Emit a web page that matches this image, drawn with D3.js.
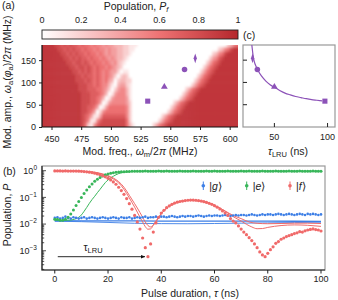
<!DOCTYPE html>
<html><head><meta charset="utf-8">
<script src="https://cdn.jsdelivr.net/npm/d3@7"></script>
<style>
body{margin:0;background:#fff}
svg{display:block}
text{font-family:"Liberation Sans",Arial,sans-serif;fill:#222}
</style>
</head><body>
<svg id="chart" width="338" height="300"></svg>
<script>
// ---------- DATA ----------
// heatmap (a): columns every 2.5 MHz starting at 442.5 MHz, rows centred at the listed amplitudes
const heatFreqStart = 442.5;
const heatFreqStep = 2.5;
const heatAmps = [5,15,25,35,45,55,65,75,85,95,105,115,125,135,145,155,165,175,185];
// digit d => P_f = d/9*0.92 (0 = white, 9 = dark red)
const heatRows = [
"999999999999986215788888888863100000024678999999999999999999999999",
"999999999999987511578888888862000000000246789999999999999999999999",
"999999999999987641147777777752000000000024678999999999999999999999",
"999999999999988764025666666652000000000000246789999999999999999999",
"999999999999988776401466666652000000000000024678999999999999999999",
"999999999999988877640145555542000000000000002467899999999999999999",
"999999999999988877653014555541000000000000000024678999999999999999",
"999999999999988877765301455531000000000000000002467899999999999999",
"999999999999888777665420245531000000000000000000246789999999999999",
"999999999999888776765531034421000000000000000000002467899999999999",
"999999999998887876765643023322000000000000000000000246789999999999",
"999999999998878776765654202320000000000000000000000024678999999999",
"999999999988787876765654420110000000000000000000000002467899999999",
"999999999887887876766565432000000000000000000000000000246789999999",
"999999998878878767665654532100000000000000000000000000024678999999",
"999999988787877676656545433210000000000000000000000000002457899999",
"999999887878776766565454433221000000000000000000000000000235689999",
"999998878787767665655454433221100000000000000000000000000002356899",
"999988787877676656554544333221110000000000000000000000000000002356"
];
const heatColorStops = ["#ffffff", "#ee7273", "#b5272c"];
const heatColorDomain = [0, 0.6, 1];
const cbTicks = [0, 0.2, 0.4, 0.6, 0.8, 1];
const freqTicks = [450, 475, 500, 525, 550, 575, 600];
const ampTicks = [0, 50, 100, 150];

// LRU operating points (a) and (c)
const lruSymbols = ["diamond", "circle", "triangle", "square"];
const lruFreq = [571, 562, 545, 531];
const lruAmp = [154, 129, 90, 58];
const lruTau = [29.5, 34, 50, 97.5];
const fitTau = [28.8, 29.5, 30, 31, 33, 35, 38, 42, 46, 50, 55, 60, 65, 70, 75, 80, 85, 90, 95];
const fitAmp = [184, 170, 160, 148, 135, 125, 114, 103, 95, 89, 82, 76, 72, 68.5, 66, 63.5, 61.5, 60, 58.5];
const tauTicks = [50, 100];

// (b) populations vs pulse duration (1 ns steps, 0..100 ns)
const pulseTau = d3.range(0, 101, 1);
const popG = [
0.017,0.018,0.016,0.017,0.019,0.017,0.016,0.018,0.017,0.016,0.017,
0.018,0.016,0.017,0.018,0.017,0.016,0.017,0.018,0.017,0.016,
0.017,0.018,0.017,0.016,0.018,0.017,0.017,0.018,0.016,0.017,
0.018,0.017,0.018,0.019,0.017,0.018,0.018,0.019,0.018,0.019,
0.019,0.018,0.019,0.020,0.019,0.018,0.019,0.020,0.019,0.020,
0.020,0.019,0.020,0.021,0.020,0.019,0.020,0.021,0.020,0.021,
0.021,0.020,0.021,0.022,0.021,0.020,0.021,0.022,0.021,0.022,
0.022,0.021,0.022,0.023,0.022,0.021,0.022,0.023,0.022,0.023,
0.023,0.022,0.023,0.024,0.023,0.022,0.023,0.024,0.023,0.022,
0.023,0.024,0.023,0.022,0.024,0.023,0.024,0.023,0.022,0.023];
const popE = [
0.015,0.015,0.014,0.014,0.015,0.018,0.024,0.034,0.05,0.07,0.10,
0.14,0.19,0.25,0.32,0.40,0.48,0.56,0.63,0.70,0.75,
0.80,0.84,0.87,0.89,0.91,0.92,0.93,0.94,0.95,0.95,
0.96,0.95,0.96,0.97,0.96,0.96,0.95,0.96,0.97,0.96,
0.96,0.97,0.96,0.95,0.96,0.96,0.97,0.96,0.96,0.95,
0.96,0.97,0.96,0.96,0.95,0.96,0.97,0.96,0.96,0.97,
0.96,0.95,0.96,0.96,0.97,0.96,0.96,0.95,0.96,0.97,
0.96,0.96,0.97,0.96,0.95,0.96,0.96,0.97,0.96,0.96,
0.95,0.96,0.97,0.96,0.96,0.95,0.96,0.97,0.96,0.96,
0.96,0.97,0.96,0.95,0.96,0.96,0.97,0.96,0.96,0.96];
const popF = [
0.98,0.98,0.98,0.97,0.98,0.97,0.97,0.97,0.97,0.96,0.95,
0.93,0.91,0.88,0.85,0.81,0.76,0.71,0.65,0.59,0.52,
0.45,0.38,0.31,0.24,0.18,0.13,0.09,0.058,0.036,0.021,
0.012,0.0065,0.003,0.0013,0.0006,0.0018,0.005,0.011,0.018,0.026,
0.033,0.041,0.048,0.055,0.061,0.066,0.070,0.073,0.076,0.078,
0.079,0.079,0.078,0.076,0.073,0.069,0.065,0.060,0.055,0.049,
0.043,0.037,0.031,0.026,0.021,0.016,0.013,0.011,0.0085,0.0065,
0.005,0.004,0.0031,0.0024,0.0018,0.0013,0.0009,0.0007,0.0006,0.0008,
0.0011,0.0014,0.0019,0.0022,0.0027,0.0030,0.0034,0.0037,0.0040,0.0044,
0.0047,0.0052,0.0050,0.0056,0.0060,0.0063,0.0066,0.0062,0.0060,0.0055];
// simulated curves [tau, P]
const simE = [[0,.014],[5,.014],[8,.016],[10,.022],[11,.03],[12,.042],[13,.06],[14,.083],[15,.11],[16,.15],[17,.2],[18,.27],[19,.36],[20,.45],[22,.62],[24,.78],[26,.87],[28,.92],[30,.95],[34,.965],[40,.97],[100,.97]];
const simF1 = [[0,.98],[8,.97],[12,.92],[15,.85],[18,.73],[20,.62],[22,.49],[24,.35],[26,.2],[28,.095],[30,.043],[31,.028],[32,.018],[33,.012],[34,.008],[35,.0064],[36,.0066],[37,.009],[38,.013],[40,.025],[42,.04],[45,.06],[50,.077],[55,.073],[60,.05],[64,.03],[67,.019],[70,.013],[72,.0098],[74,.0078],[76,.0067],[78,.0068],[80,.0075],[85,.0088],[90,.0093],[95,.009],[100,.0082]];
const simF2 = [[0,.98],[8,.97],[12,.93],[15,.87],[18,.76],[20,.65],[22,.53],[24,.39],[26,.24],[28,.12],[30,.058],[31,.04],[32,.027],[33,.018],[34,.012],[35,.0088],[36,.0078],[37,.0092],[38,.012],[40,.024],[42,.039],[45,.06],[50,.077],[55,.073],[60,.05],[64,.031],[67,.021],[70,.016],[73,.012],[76,.0107],[80,.0103],[85,.0105],[90,.0108],[95,.0108],[100,.0105]];
const simG1 = [[0,.0133],[20,.0132],[40,.013],[60,.0129],[80,.0128],[100,.0127]];
const simG2 = [[0,.0128],[10,.0123],[20,.0115],[30,.0107],[40,.0104],[50,.0103],[60,.0105],[70,.0108],[80,.0111],[90,.0114],[100,.0117]];
const pulseTicks = [0, 20, 40, 60, 80, 100];
const decadeTicks = [1, 0.1, 0.01, 0.001];
const decadeExp = ["0", "\u22121", "\u22122", "\u22123"];
const tauLRU = 35;
const legendLabels = ["|g\u27E9", "|e\u27E9", "|f\u27E9"];
const colG = "#3d7fe6", colE = "#38b65a", colF = "#f06a6a", colP = "#8c52b8";

// ---------- DRAW ----------
const svg = d3.select("#chart");
const defs = svg.append("defs");
const font = 9, fontT = 10.5;

// ===== panel (a) =====
const hx = d3.scaleLinear().domain([442, 607]).range([42, 238]);
const hy = d3.scaleLinear().domain([0, 184]).range([127, 45]);
const heatColor = d3.scaleLinear().domain(heatColorDomain).range(heatColorStops).interpolate(d3.interpolateRgb);

defs.append("clipPath").attr("id","hclip").append("rect")
  .attr("x",42).attr("y",45).attr("width",196).attr("height",82);
const blur = defs.append("filter").attr("id","hblur").attr("x","-5%").attr("y","-5%").attr("width","110%").attr("height","110%");
blur.append("feGaussianBlur").attr("stdDeviation","1.1 1.6");

const cells = [];
heatRows.forEach((row, r) => {
  for (let c = 0; c < row.length; c++) {
    cells.push({f0: heatFreqStart + c*heatFreqStep, a: heatAmps[r], v: (+row[c])/9*0.92, c, r, nc: row.length});
  }
});
const hg = svg.append("g").attr("clip-path","url(#hclip)").append("g").attr("filter","url(#hblur)");
hg.selectAll("rect").data(cells).join("rect")
  .attr("x", d => hx(d.f0) - (d.c===0?6:0))
  .attr("width", d => hx(d.f0+heatFreqStep) - hx(d.f0) + 0.4 + (d.c===0?6:0) + (d.c===d.nc-1?6:0))
  .attr("y", d => hy(d.a+5) - (d.r===heatRows.length-1?8:0) - 0.3)
  .attr("height", d => hy(d.a-5) - hy(d.a+5) + 0.6 + (d.r===0?8:0) + (d.r===heatRows.length-1?8:0))
  .attr("fill", d => heatColor(d.v));

// heatmap axes
const hxAxis = svg.append("g").attr("transform","translate(0,127)")
  .call(d3.axisBottom(hx).tickValues(freqTicks).tickSize(3).tickSizeOuter(0));
const hyAxis = svg.append("g").attr("transform","translate(42,0)")
  .call(d3.axisLeft(hy).tickValues(ampTicks).tickSize(3).tickSizeOuter(0));
[hxAxis, hyAxis].forEach(g => {
  g.select(".domain").remove();
  g.selectAll("text").attr("font-size", font).attr("font-family","Liberation Sans, Arial").attr("fill","#222");
  g.selectAll("line").attr("stroke","#222");
});
hxAxis.selectAll("text").attr("dy","0.95em");
svg.append("path").attr("d","M42,45V127H238").attr("fill","none").attr("stroke","#111").attr("stroke-width",1.2);

// markers in heatmap
const symMap = {diamond: d3.symbolDiamond, circle: d3.symbolCircle, triangle: d3.symbolTriangle, square: d3.symbolSquare};
const symSize = {diamond: 16, circle: 24, triangle: 20, square: 26};
lruSymbols.forEach((s, i) => {
  svg.append("path").attr("d", d3.symbol(symMap[s], symSize[s])())
    .attr("transform", `translate(${hx(lruFreq[i])},${hy(lruAmp[i])})` + (s==="diamond"?" scale(0.75,1.3)":""))
    .attr("fill", colP);
});

// colorbar
const cbx = d3.scaleLinear().domain([0,1]).range([42, 238]);
const grad = defs.append("linearGradient").attr("id","cbgrad");
d3.range(0, 1.0001, 0.05).forEach(t => grad.append("stop").attr("offset", t).attr("stop-color", heatColor(t)));
svg.append("rect").attr("x",42).attr("y",30).attr("width",196).attr("height",9)
  .attr("fill","url(#cbgrad)").attr("stroke","#222").attr("stroke-width",0.9);
svg.selectAll(".cbt").data(cbTicks).join("text").attr("class","cbt")
  .attr("x", d => cbx(d)).attr("y", 23).attr("text-anchor","middle").attr("font-size", font)
  .text(d => d === 0 || d === 1 ? d : d.toFixed(1));
const cbTitle = svg.append("text").attr("x",136).attr("y",9.5).attr("text-anchor","middle").attr("font-size",fontT);
cbTitle.append("tspan").text("Population, ");
cbTitle.append("tspan").attr("font-style","italic").text("P");
cbTitle.append("tspan").attr("font-style","italic").attr("font-size",7.5).attr("dy",2).text("f");

svg.append("text").attr("x",2).attr("y",9).attr("font-size",fontT).text("(a)");
svg.append("text").attr("x",243).attr("y",38.5).attr("font-size",fontT).text("(c)");

// x title (a)
const xtA = svg.append("text").attr("x",140).attr("y",154.5).attr("text-anchor","middle").attr("font-size",fontT);
xtA.append("tspan").text("Mod. freq., ");
xtA.append("tspan").attr("font-style","italic").text("\u03C9");
xtA.append("tspan").attr("font-size",7.5).attr("dy",2).text("m");
xtA.append("tspan").attr("dy",-2).text("/2");
xtA.append("tspan").attr("font-style","italic").text("\u03C0");
xtA.append("tspan").text(" (MHz)");
// y title (a)
const ytA = svg.append("text").attr("transform","translate(10.5,82) rotate(-90)").attr("text-anchor","middle").attr("font-size",fontT);
ytA.append("tspan").text("Mod. amp., ");
ytA.append("tspan").attr("font-style","italic").text("\u03C9");
ytA.append("tspan").attr("font-size",7.5).attr("dy",2).text("a");
ytA.append("tspan").attr("dy",-2).text("(");
ytA.append("tspan").attr("font-style","italic").text("\u03C6");
ytA.append("tspan").attr("font-size",7.5).attr("dy",2).text("a");
ytA.append("tspan").attr("dy",-2).text(")/2");
ytA.append("tspan").attr("font-style","italic").text("\u03C0");
ytA.append("tspan").text(" (MHz)");

// ===== panel (c) =====
const cx = d3.scaleLinear().domain([20.5, 107]).range([243, 335]);
defs.append("clipPath").attr("id","cclip").append("rect").attr("x",243).attr("y",45).attr("width",92).attr("height",82);
svg.append("rect").attr("x",243).attr("y",45).attr("width",92).attr("height",82)
  .attr("fill","none").attr("stroke","#999").attr("stroke-width",1.2);
ampTicks.filter(d => d > 0).forEach(d => {
  svg.append("line").attr("x1",243).attr("x2",247).attr("y1",hy(d)).attr("y2",hy(d)).attr("stroke","#222");
});
tauTicks.forEach(d => {
  svg.append("line").attr("x1",cx(d)).attr("x2",cx(d)).attr("y1",127).attr("y2",123).attr("stroke","#222");
  svg.append("text").attr("x",cx(d)).attr("y",140).attr("text-anchor","middle").attr("font-size",font).text(d);
});
svg.append("path").attr("clip-path","url(#cclip)")
  .attr("d", d3.line().x((d,i) => cx(fitTau[i])).y((d,i) => hy(fitAmp[i])).curve(d3.curveMonotoneX)(fitTau))
  .attr("fill","none").attr("stroke",colP).attr("stroke-width",1.2);
lruSymbols.forEach((s, i) => {
  svg.append("path").attr("d", d3.symbol(symMap[s], symSize[s])())
    .attr("transform", `translate(${cx(lruTau[i])},${hy(lruAmp[i])})` + (s==="diamond"?" scale(0.75,1.3)":""))
    .attr("fill", colP);
});
const xtC = svg.append("text").attr("x",288).attr("y",154.5).attr("text-anchor","middle").attr("font-size",fontT);
xtC.append("tspan").attr("font-style","italic").text("\u03C4");
xtC.append("tspan").attr("font-size",7.5).attr("dy",2).text("LRU");
xtC.append("tspan").attr("dy",-2).text(" (ns)");

// ===== panel (b) =====
const bx = d3.scaleLinear().domain([-4.8, 101.5]).range([42, 325]);
const by = d3.scaleLog().domain([1.9e-4, 1.5]).range([270, 166]);
defs.append("clipPath").attr("id","bclip").append("rect").attr("x",42).attr("y",166).attr("width",283).attr("height",104);
svg.append("rect").attr("x",42).attr("y",166).attr("width",283).attr("height",104)
  .attr("fill","none").attr("stroke","#999").attr("stroke-width",1.2);
svg.append("path").attr("d","M42,166V270H325").attr("fill","none").attr("stroke","#222").attr("stroke-width",1.2);

// y ticks (log)
const minorTicks = by.ticks().filter(d => d >= 2e-4 && d <= 1.5);
minorTicks.forEach(d => {
  const isMajor = Math.abs(Math.log10(d) - Math.round(Math.log10(d))) < 1e-6;
  svg.append("line").attr("x1",42).attr("x2",42 + (isMajor?4:2.2)).attr("y1",by(d)).attr("y2",by(d))
    .attr("stroke","#222").attr("stroke-width",0.8);
});
decadeTicks.forEach((d, i) => {
  const t = svg.append("text").attr("x",37).attr("y",by(d)+3.2).attr("text-anchor","end").attr("font-size",font);
  t.append("tspan").text("10");
  t.append("tspan").attr("font-size",6.5).attr("dy",-4).text(decadeExp[i]);
});
// x ticks
pulseTicks.forEach(d => {
  svg.append("line").attr("x1",bx(d)).attr("x2",bx(d)).attr("y1",270).attr("y2",273.5).attr("stroke","#222");
  svg.append("text").attr("x",bx(d)).attr("y",282).attr("text-anchor","middle").attr("font-size",font).text(d);
});

const pb = svg.append("g").attr("clip-path","url(#bclip)");
const lineGen = d3.line().x(d => bx(d[0])).y(d => by(d[1])).curve(d3.curveMonotoneX);
[[simG1,colG,1.3],[simG2,colG,0.9],[simE,colE,1],[simF1,colF,1],[simF2,colF,1]].forEach(([dat,col,w]) => {
  pb.append("path").attr("d", lineGen(dat)).attr("fill","none").attr("stroke",col).attr("stroke-width",w);
});
function dots(vals, col, r) {
  pb.append("g").selectAll("circle").data(vals).join("circle")
    .attr("cx", (d,i) => bx(pulseTau[i])).attr("cy", d => by(d)).attr("r", r).attr("fill", col);
}
dots(popG, colG, 1.3);
dots(popE, colE, 1.5);
dots(popF, colF, 1.6);

// arrow
defs.append("marker").attr("id","arr").attr("viewBox","0 0 10 10").attr("refX",9).attr("refY",5)
  .attr("markerWidth",5).attr("markerHeight",5).attr("orient","auto")
  .append("path").attr("d","M0,1L10,5L0,9z").attr("fill","#111");
svg.append("line").attr("x1",bx(0)+3).attr("x2",bx(tauLRU)-3).attr("y1",256.7).attr("y2",256.7)
  .attr("stroke","#111").attr("stroke-width",0.9).attr("marker-end","url(#arr)");
const tl = svg.append("text").attr("x",93).attr("y",251).attr("text-anchor","middle").attr("font-size",fontT);
tl.append("tspan").text("\u03C4");
tl.append("tspan").attr("font-size",7.5).attr("dy",2).text("LRU");

// legend
const legX = [203.3, 246.7, 290], legC = [colG, colE, colF];
legendLabels.forEach((l, i) => {
  svg.append("line").attr("x1",legX[i]).attr("x2",legX[i]).attr("y1",181.5).attr("y2",190).attr("stroke",legC[i]).attr("stroke-width",1);
  svg.append("circle").attr("cx",legX[i]).attr("cy",185.7).attr("r",1.8).attr("fill",legC[i]);
  const t = svg.append("text").attr("x",legX[i]+6).attr("y",189.5).attr("font-size",fontT);
  t.append("tspan").text("|");
  t.append("tspan").attr("font-style","italic").text(l[1]);
  t.append("tspan").text("\u27E9");
});

svg.append("text").attr("x",3).attr("y",175).attr("font-size",fontT).text("(b)");
const ytB = svg.append("text").attr("transform","translate(10.5,215) rotate(-90)").attr("text-anchor","middle").attr("font-size",fontT);
ytB.append("tspan").text("Population, ");
ytB.append("tspan").attr("font-style","italic").text("P");
const xtB = svg.append("text").attr("x",190).attr("y",296.5).attr("text-anchor","middle").attr("font-size",fontT);
xtB.append("tspan").text("Pulse duration, ");
xtB.append("tspan").attr("font-style","italic").text("\u03C4");
xtB.append("tspan").text(" (ns)");
</script>
</body></html>
